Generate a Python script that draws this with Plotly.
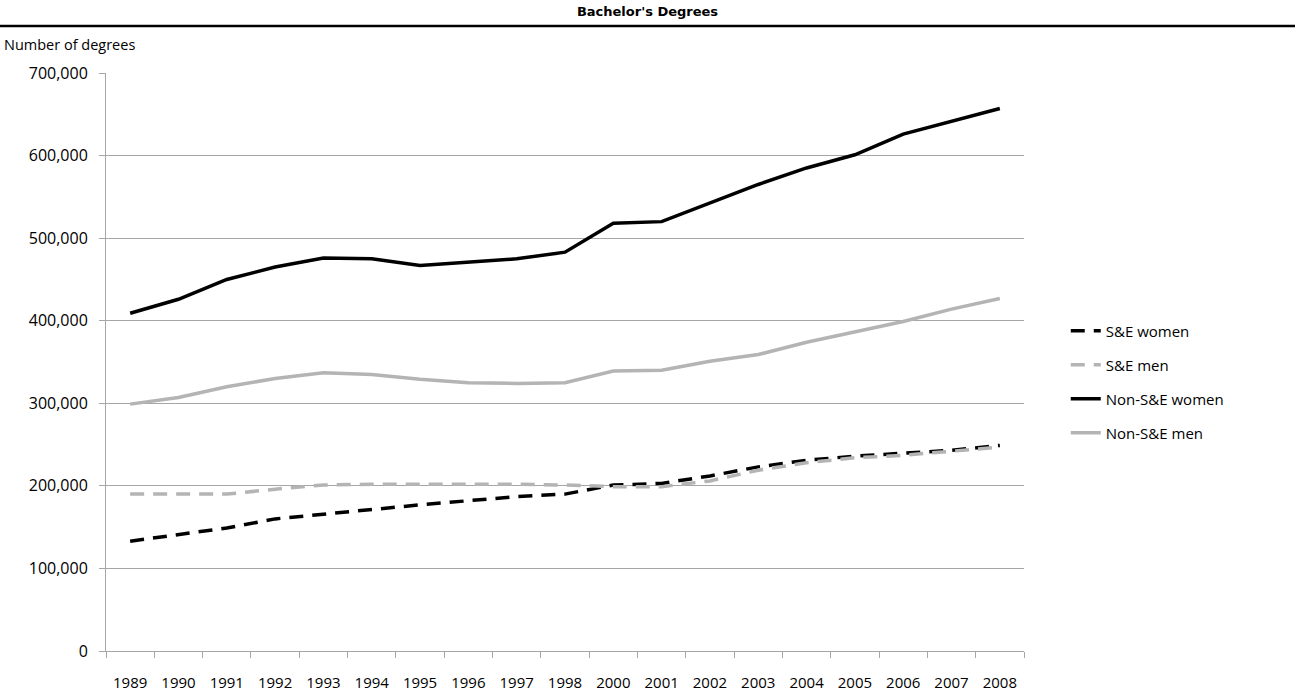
import plotly.graph_objects as go

years = ["1989", "1990", "1991", "1992", "1993", "1994", "1995", "1996", "1997", "1998",
         "2000", "2001", "2002", "2003", "2004", "2005", "2006", "2007", "2008"]

se_women = [133000, 141000, 149000, 160000, 166000, 171000, 177000, 182000, 187000, 190000,
            201000, 203000, 212000, 223000, 231000, 236000, 240000, 243000, 249000]
se_men = [190000, 190000, 190000, 196000, 201000, 202000, 202000, 203000, 202000, 201000,
          199000, 199000, 206000, 219000, 228000, 234000, 237000, 242000, 247000]
nonse_women = [409000, 426000, 450000, 465000, 476000, 475000, 467000, 471000, 475000, 483000,
               518000, 520000, 543000, 565000, 585000, 601000, 626000, 642000, 657000]
nonse_men = [299000, 307000, 320000, 330000, 337000, 335000, 329000, 325000, 324000, 325000,
             339000, 340000, 351000, 359000, 374000, 386000, 399000, 414000, 427000]

y_ticks = [0, 100000, 200000, 300000, 400000, 500000, 600000, 700000]

BLACK = "#000000"
GRAY = "#b4b4b4"
GRID = "#a6a6a6"
FONT = "Open Sans, sans-serif"
TITLE_FONT = "DejaVu Sans, Verdana, sans-serif"

series = [
    ("S&E women", se_women, BLACK, "14px,9px"),
    ("S&E men", se_men, GRAY, "14px,9px"),
    ("Non-S&E women", nonse_women, BLACK, "solid"),
    ("Non-S&E men", nonse_men, GRAY, "solid"),
]

fig = go.Figure()
for name, vals, color, dash in series:
    fig.add_trace(go.Scatter(
        x=years, y=vals, name=name, mode="lines",
        line=dict(color=color, width=3.5, dash=dash),
        legendgroup=name,
    ))

fig.update_layout(
    width=1295, height=696,
    margin=dict(l=106, r=271, t=73, b=45),
    paper_bgcolor="white", plot_bgcolor="white",
    font=dict(family=FONT, size=15, color="#000000"),
    title=dict(text="<b>Bachelor's Degrees</b>", x=0.5, xref="container",
               y=0.983, yref="container", yanchor="middle",
               font=dict(family=TITLE_FONT, size=13, color="#000000")),
    showlegend=True,
    legend=dict(x=1.0455, xanchor="left", y=0.4655, yanchor="middle",
                font=dict(family=FONT, size=15, color="#000000"),
                traceorder="grouped", tracegroupgap=11.5,
                bgcolor="rgba(0,0,0,0)"),
)

fig.update_xaxes(
    type="category", range=[-0.5, len(years) - 0.5],
    tickson="boundaries", ticks="outside", ticklen=6,
    tickcolor=GRID, showline=True, linecolor=GRID, linewidth=1,
    showgrid=False, ticklabelstandoff=18, automargin=False,
    tickfont=dict(family=FONT, size=15, color="#000000"),
)
fig.update_yaxes(
    range=[0, 700000], tickvals=y_ticks, tickformat=",d",
    ticks="outside", ticklen=6, tickcolor=GRID,
    showline=True, linecolor=GRID, linewidth=1,
    showgrid=True, gridcolor=GRID, gridwidth=1, zeroline=False,
    ticklabelstandoff=8, automargin=False,
    tickfont=dict(family=FONT, size=16, color="#000000"),
)

# rule under the title, spanning the full page width
fig.add_shape(type="line", xref="paper", yref="paper",
              x0=-106 / 918, x1=1189 / 918, y0=625 / 578, y1=625 / 578,
              line=dict(color="#000000", width=2.5))

fig.add_annotation(text="Number of degrees", xref="paper", yref="paper",
                   x=-104 / 918, y=607 / 578, xanchor="left", yanchor="middle",
                   showarrow=False, font=dict(family=FONT, size=14.5, color="#000000"))

fig.write_html("out.html")
